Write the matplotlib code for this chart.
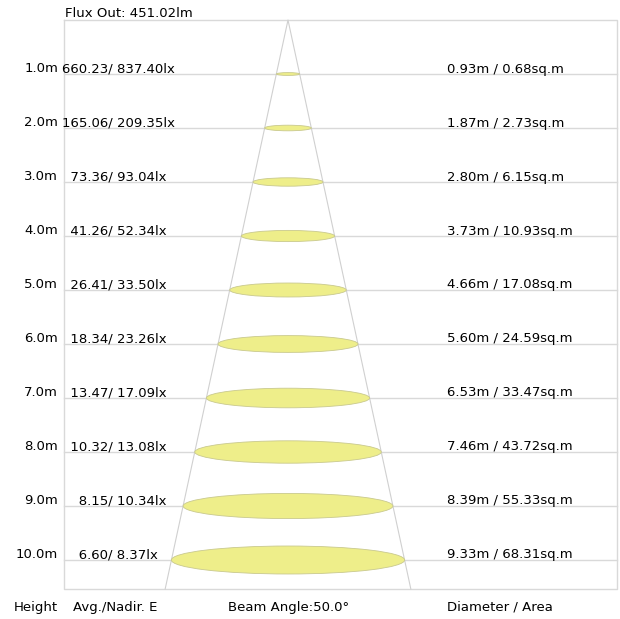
import matplotlib.pyplot as plt
from matplotlib.patches import Ellipse
import math

heights = [1.0, 2.0, 3.0, 4.0, 5.0, 6.0, 7.0, 8.0, 9.0, 10.0]
avg_lux = [660.23, 165.06, 73.36, 41.26, 26.41, 18.34, 13.47, 10.32, 8.15, 6.60]
nadir_lux = [837.40, 209.35, 93.04, 52.34, 33.50, 23.26, 17.09, 13.08, 10.34, 8.37]
diameters = [0.93, 1.87, 2.80, 3.73, 4.66, 5.60, 6.53, 7.46, 8.39, 9.33]
areas = [0.68, 2.73, 6.15, 10.93, 17.08, 24.59, 33.47, 43.72, 55.33, 68.31]
beam_angle = 50.0
flux = 451.02
footer = ["Height", "Avg./Nadir. E", "Beam Angle:%.1f°" % beam_angle, "Diameter / Area"]

# layout: metres on both axes, 25 px/m across, 54 px/m down
px_x, px_y = 25.0, 54.0
apex_px, top_px = 288, 20
W, H = 620, 619

fig = plt.figure(figsize=(6.2, 6.19), dpi=100)
ax = fig.add_axes([0, 0, 1, 1])
ax.set_xlim(-apex_px / px_x, (W - apex_px) / px_x)
ax.set_ylim((H - top_px) / px_y, -top_px / px_y)
ax.axis('off')

def mx(px):
    return (px - apex_px) / px_x

def my(px):
    return (px - top_px) / px_y

grid = '#d9d9d9'
x0, x1 = mx(64), mx(617)
bottom = my(589)

# frame
ax.plot([x0, x1, x1, x0, x0], [0, 0, bottom, bottom, 0], color=grid, lw=1, zorder=1)
for h in heights:
    ax.plot([x0, x1], [h, h], color=grid, lw=1, zorder=1)

# cone
half = math.tan(math.radians(beam_angle / 2)) * bottom
ax.plot([-half, 0, half], [bottom, 0, bottom], color='#d0d0d0', lw=0.8, zorder=2)

# light spots
for h, d in zip(heights, diameters):
    e = Ellipse((0, h), d, 0.12 * d * px_x / px_y, facecolor='#eeee8a',
                edgecolor='#c9c98e', lw=0.6, zorder=3)
    ax.add_patch(e)

fs = 9.5
ax.text(mx(65), my(17), "Flux Out: %.2flm" % flux, fontsize=fs, va='baseline', ha='left')
for h, a, n, d, ar in zip(heights, avg_lux, nadir_lux, diameters, areas):
    yb = h - 1.5 / px_y
    ax.text(mx(58), yb, "%.1fm" % h, fontsize=fs, va='baseline', ha='right')
    left = ("%6.2f" % a).replace(' ', '\u2007')
    ax.text(mx(62), yb, "%s/ %.2flx" % (left, n), fontsize=fs, va='baseline', ha='left')
    ax.text(mx(447), yb, "%.2fm / %.2fsq.m" % (d, ar), fontsize=fs, va='baseline', ha='left')

for lab, px in zip(footer, [14, 73, 228, 447]):
    ax.text(mx(px), my(611), lab, fontsize=fs, va='baseline', ha='left')

plt.savefig("out.png", dpi=100)
